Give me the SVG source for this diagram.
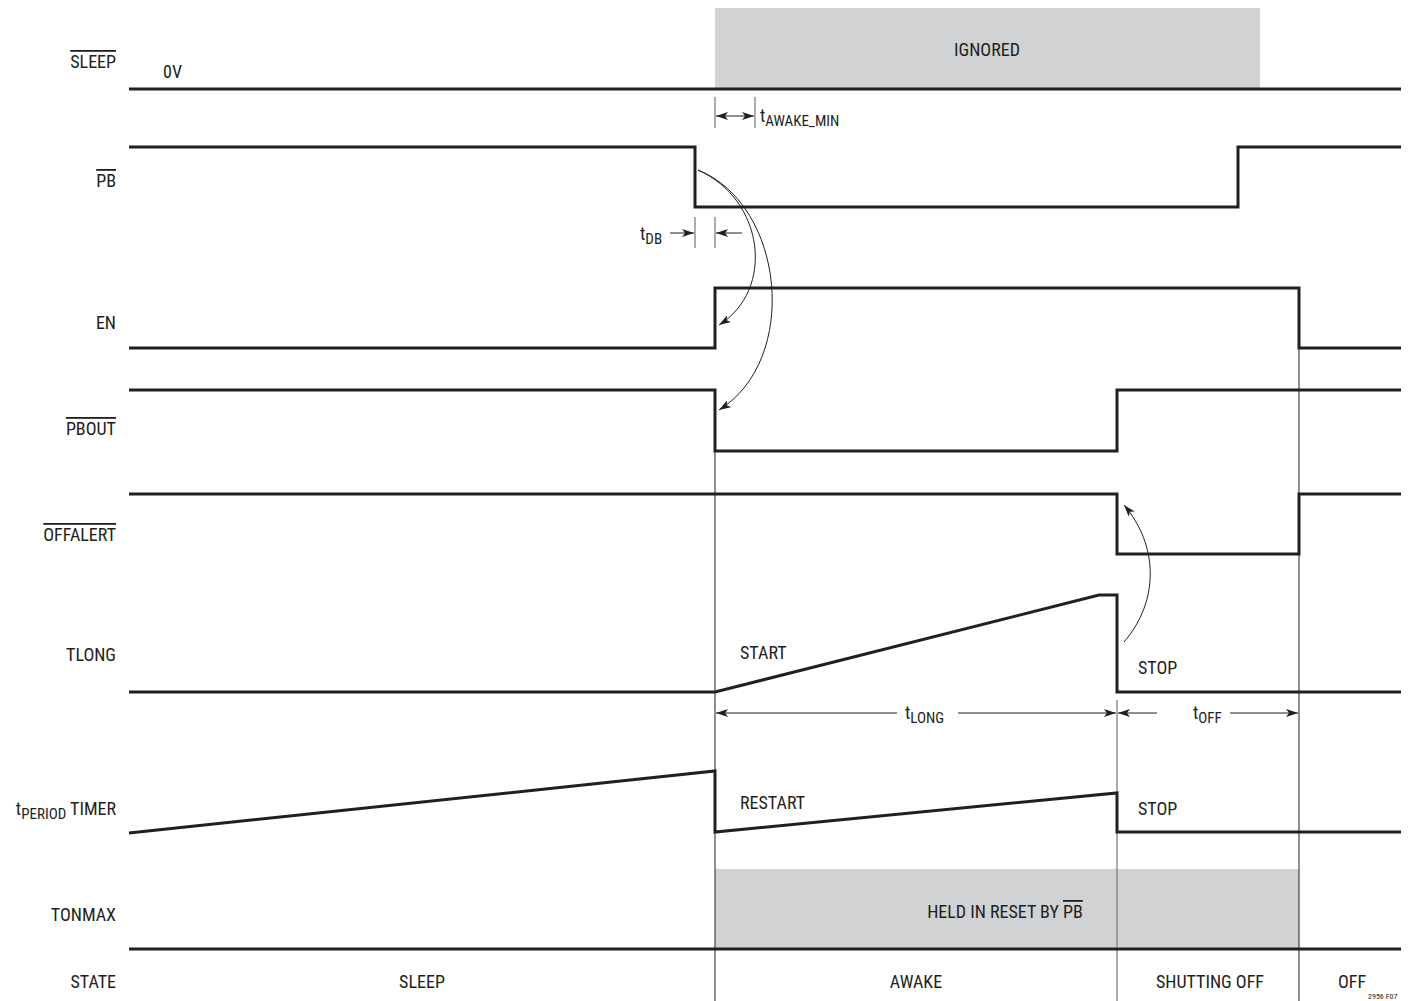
<svg xmlns="http://www.w3.org/2000/svg" width="1408" height="1001" viewBox="0 0 1408 1001">
<style>
text{font-family:"Liberation Sans Narrow","Roboto Condensed","Liberation Sans",Arial,sans-serif;font-size:18px;fill:#231f20}
.lbl{text-anchor:end}
.mid{text-anchor:middle}
.sig{fill:none;stroke:#231f20;stroke-width:3;stroke-linejoin:miter}
.thin{fill:none;stroke:#231f20;stroke-width:1}
.tick{fill:none;stroke:#808080;stroke-width:1.3}
.shade{fill:#d1d2d4}
.ov{text-decoration:overline}
.sub{font-size:15px}
text.fig{font-size:8px}
</style>
<defs>
<marker id="ah" viewBox="0 0 12 8" refX="12" refY="4" markerWidth="12" markerHeight="8" markerUnits="userSpaceOnUse" orient="auto-start-reverse">
<path d="M0,0 L12,4 L0,8 L3,4 z" fill="#231f20"/>
</marker>
</defs>
<rect width="1408" height="1001" fill="#fff"/>
<g id="shades">
<rect class="shade" x="715" y="8" width="545" height="80"/>
<rect class="shade" x="715" y="869" width="584" height="79"/>
</g>
<g id="gridlines">
<line class="thin" x1="715" y1="451" x2="715" y2="1001"/>
<line class="tick" x1="1117" y1="700" x2="1117" y2="1001"/>
<line class="thin" x1="1299" y1="348" x2="1299" y2="1001"/>
</g>
<g id="labels">
<text class="lbl" x="116" y="68"><tspan class="ov">SLEEP</tspan></text>
<text class="lbl" x="116" y="187"><tspan class="ov">PB</tspan></text>
<text class="lbl" x="116" y="329">EN</text>
<text class="lbl" x="116" y="435"><tspan class="ov">PBOUT</tspan></text>
<text class="lbl" x="116" y="541"><tspan class="ov">OFFALERT</tspan></text>
<text class="lbl" x="116" y="661">TLONG</text>
<text class="lbl" x="116" y="815">t<tspan class="sub" dy="4">PERIOD</tspan><tspan dy="-4"> TIMER</tspan></text>
<text class="lbl" x="116" y="921">TONMAX</text>
<text class="lbl" x="116" y="988">STATE</text>
</g>
<g id="sig-sleep">
<line class="sig" x1="129" y1="89" x2="1401" y2="89"/>
<text x="163" y="78">0V</text>
<text class="mid" x="987" y="56">IGNORED</text>
</g>
<g id="sig-pb">
<polyline class="sig" points="129,147 695,147 695,207 1238,207 1238,147 1401,147"/>
</g>
<g id="sig-en">
<polyline class="sig" points="129,348 715,348 715,288 1299,288 1299,348 1401,348"/>
</g>
<g id="sig-pbout">
<polyline class="sig" points="129,390 715,390 715,451 1117,451 1117,390 1401,390"/>
</g>
<g id="sig-offalert">
<polyline class="sig" points="129,494 1117,494 1117,554 1299,554 1299,494 1401,494"/>
</g>
<g id="sig-tlong">
<polyline class="sig" points="129,692 715,692 1099,595 1117,595 1117,692 1401,692"/>
<text x="740" y="659">START</text>
<text x="1138" y="674">STOP</text>
</g>
<g id="sig-tperiod">
<polyline class="sig" points="129,833 715,771 715,832 1117,793 1117,832 1401,832"/>
<text x="740" y="809">RESTART</text>
<text x="1138" y="815">STOP</text>
</g>
<g id="sig-tonmax">
<line class="sig" x1="129" y1="949" x2="1401" y2="949"/>
<text class="mid" x="1005" y="918">HELD IN RESET BY <tspan class="ov">PB</tspan></text>
</g>
<g id="states">
<text class="mid" x="422" y="988">SLEEP</text>
<text class="mid" x="916" y="988">AWAKE</text>
<text class="mid" x="1210" y="988">SHUTTING OFF</text>
<text class="mid" x="1352" y="988">OFF</text>
<text class="fig" x="1368" y="999">2956 F07</text>
</g>
<g id="connectors">
<line class="tick" x1="715" y1="97" x2="715" y2="128"/>
<line class="tick" x1="755" y1="97" x2="755" y2="128"/>
<line class="thin" x1="716" y1="116" x2="754" y2="116" marker-start="url(#ah)" marker-end="url(#ah)"/>
<text x="760" y="122">t<tspan class="sub" dy="4">AWAKE_MIN</tspan></text>
<line class="tick" x1="695" y1="217" x2="695" y2="248"/>
<line class="tick" x1="715" y1="217" x2="715" y2="248"/>
<line class="thin" x1="670" y1="233" x2="694" y2="233" marker-end="url(#ah)"/>
<line class="thin" x1="742" y1="233" x2="716" y2="233" marker-end="url(#ah)"/>
<text x="640" y="240">t<tspan class="sub" dy="4">DB</tspan></text>
<path class="thin" d="M698,170 C765,200 775,290 719,325" marker-end="url(#ah)"/>
<path class="thin" d="M698,170 C785,205 800,360 719,410" marker-end="url(#ah)"/>
<path class="thin" d="M1124,642 C1160,600 1158,545 1124,505" marker-end="url(#ah)"/>
<line class="thin" x1="716" y1="713" x2="897" y2="713" marker-start="url(#ah)"/>
<line class="thin" x1="958" y1="713" x2="1116" y2="713" marker-end="url(#ah)"/>
<text x="905" y="719">t<tspan class="sub" dy="4">LONG</tspan></text>
<line class="thin" x1="1118" y1="713" x2="1157" y2="713" marker-start="url(#ah)"/>
<line class="thin" x1="1230" y1="713" x2="1298" y2="713" marker-end="url(#ah)"/>
<text x="1193" y="719">t<tspan class="sub" dy="4">OFF</tspan></text>
</g>
</svg>
